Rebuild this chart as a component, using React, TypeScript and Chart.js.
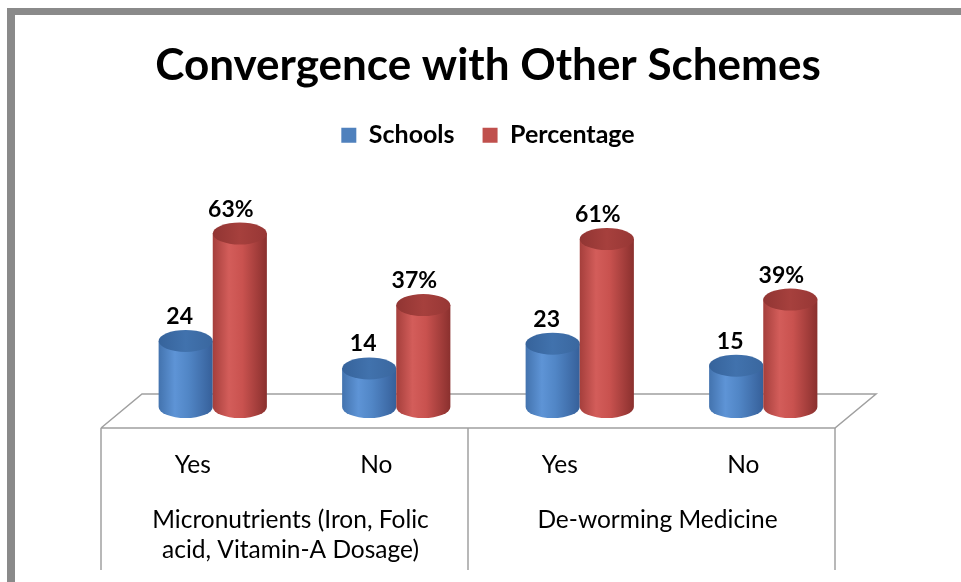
import React, { useEffect, useRef } from "react";
import { Chart, registerables } from "chart.js";

Chart.register(...registerables);

const categories = ["Yes", "No", "Yes", "No"];
const groupLabels = [
  ["Micronutrients (Iron, Folic", "acid, Vitamin-A Dosage)"],
  ["De-worming Medicine"],
];
const schools = [24, 14, 23, 15];
const percentage = [63, 37, 61, 39];
const seriesNames = ["Schools", "Percentage"];
const titleText = "Convergence with Other Schemes";

const FONT = "Lato, 'Open Sans', sans-serif";

const palettes = [
  { solid: "#4f81bd", stops: ["#4373ae", "#5e94d6", "#5186c6", "#36609a"], cap: ["#36639b", "#4172ad", "#3a679f"] },
  { solid: "#c0504d", stops: ["#a53f3c", "#d35d5a", "#c9524f", "#8a302e"], cap: ["#913533", "#a6403d", "#973735"] },
];

const cylinderPlugin = {
  id: "cylinders",
  beforeDraw(chart: any) {
    const { ctx } = chart;
    ctx.save();
    ctx.fillStyle = "#8a8a8a";
    ctx.fillRect(7, 8, 8, 574);
    ctx.fillRect(7, 8, 954, 7);
    ctx.restore();
  },
  beforeDatasetsDraw(chart: any) {
    const { ctx, chartArea } = chart;
    const xs = chart.scales.x;
    const base = chartArea.bottom;
    const frontShift = -20;
    const backShift = 21;
    const backY = base - 13;
    const frontY = base + 21;
    const tableBottom = 570;
    ctx.save();
    ctx.strokeStyle = "#a0a0a0";
    ctx.lineWidth = 1.5;
    ctx.beginPath();
    ctx.moveTo(chartArea.left + frontShift, frontY);
    ctx.lineTo(chartArea.left + backShift, backY);
    ctx.lineTo(chartArea.right + backShift, backY);
    ctx.lineTo(chartArea.right + frontShift, frontY);
    ctx.lineTo(chartArea.left + frontShift, frontY);
    ctx.stroke();
    const mid = (xs.getPixelForValue(1) + xs.getPixelForValue(2)) / 2 + frontShift;
    [chartArea.left + frontShift, mid, chartArea.right + frontShift].forEach((x: number) => {
      ctx.beginPath();
      ctx.moveTo(x, frontY);
      ctx.lineTo(x, tableBottom);
      ctx.stroke();
    });

    // cylinders
    const ry = 11;
    const metas = chart.data.datasets.map((_: any, i: number) => chart.getDatasetMeta(i));
    for (let i = 0; i < categories.length; i++) {
      metas.forEach((meta: any, d: number) => {
        const bar = meta.data[i];
        const p = palettes[d];
        const x = bar.x;
        const w = bar.width;
        const rx = w / 2;
        const top = bar.y;
        const b = bar.base;
        const l = x - rx;
        const r = x + rx;
        const g = ctx.createLinearGradient(l, 0, r, 0);
        g.addColorStop(0, p.stops[0]);
        g.addColorStop(0.3, p.stops[1]);
        g.addColorStop(0.55, p.stops[2]);
        g.addColorStop(1, p.stops[3]);
        ctx.beginPath();
        ctx.moveTo(l, top);
        ctx.lineTo(l, b);
        ctx.ellipse(x, b, rx, ry, 0, Math.PI, 0, true);
        ctx.lineTo(r, top);
        ctx.closePath();
        ctx.fillStyle = g;
        ctx.fill();
        const cg = ctx.createLinearGradient(l, 0, r, 0);
        cg.addColorStop(0, p.cap[0]);
        cg.addColorStop(0.5, p.cap[1]);
        cg.addColorStop(1, p.cap[2]);
        ctx.beginPath();
        ctx.ellipse(x, top, rx, ry, 0, 0, Math.PI * 2);
        ctx.fillStyle = cg;
        ctx.fill();
      });
    }
    // value labels
    ctx.fillStyle = "#000";
    ctx.font = `bold 23px ${FONT}`;
    ctx.textAlign = "center";
    ctx.textBaseline = "alphabetic";
    metas.forEach((meta: any, d: number) => {
      const vals = chart.data.datasets[d].data;
      meta.data.forEach((bar: any, i: number) => {
        const txt = d === 1 ? `${vals[i]}%` : `${vals[i]}`;
        ctx.fillText(txt, bar.x - (d === 1 ? 9 : 6), bar.y - ry - 6);
      });
    });

    // category labels
    ctx.font = `24.5px ${FONT}`;
    ctx.textBaseline = "middle";
    categories.forEach((c, i) => {
      ctx.fillText(c, xs.getPixelForValue(i) + frontShift, 465);
    });
    groupLabels.forEach((lines, gi) => {
      const cx = (xs.getPixelForValue(gi * 2) + xs.getPixelForValue(gi * 2 + 1)) / 2 + frontShift + 6;
      lines.forEach((ln, li) => {
        ctx.fillText(ln, cx, 520 + li * 30);
      });
    });
    ctx.restore();
    return false;
  },
};

export default function App() {
  const ref = useRef<HTMLCanvasElement>(null);
  useEffect(() => {
    if (!ref.current) return;
    const chart = new Chart(ref.current, {
      type: "bar",
      data: {
        labels: categories,
        datasets: [
          { label: seriesNames[0], data: schools, backgroundColor: palettes[0].solid },
          { label: seriesNames[1], data: percentage, backgroundColor: palettes[1].solid },
        ],
      },
      options: {
        responsive: false,
        animation: false,
        layout: { padding: { left: 121, right: 106, top: 0, bottom: 175 } },
        datasets: { bar: { barPercentage: 1, categoryPercentage: 0.59 } },
        scales: {
          x: { display: false },
          y: { display: false, min: 0, max: 90.5 },
        },
        plugins: {
          title: {
            display: true,
            text: titleText,
            color: "#000",
            font: { family: FONT, size: 44, weight: "bold" },
            padding: { top: 39, bottom: 3 },
          },
          legend: {
            display: true,
            labels: {
              color: "#000",
              font: { family: FONT, size: 25, weight: "bold" },
              boxWidth: 15,
              boxHeight: 15,
              padding: 28,
            },
          },
          tooltip: { enabled: false },
        },
      },
      plugins: [cylinderPlugin],
    });
    return () => chart.destroy();
  }, []);
  return (
    <div style={{ position: "absolute", left: 0, top: 0, width: 961, height: 582, background: "#fff" }}>
      <canvas ref={ref} width={961} height={582} />
    </div>
  );
}
